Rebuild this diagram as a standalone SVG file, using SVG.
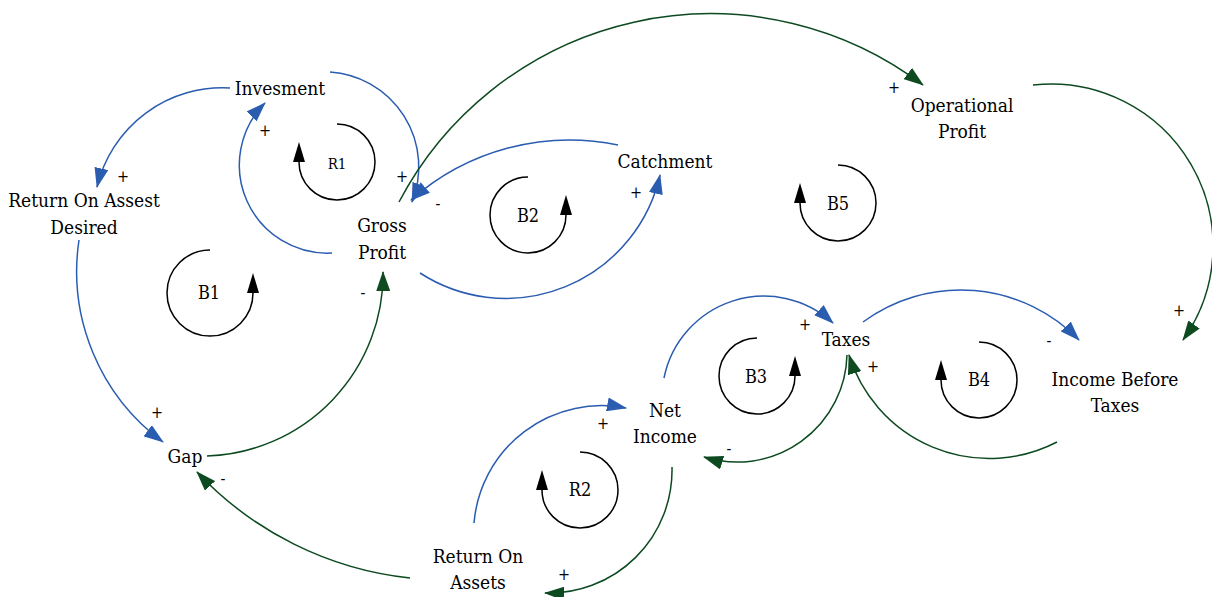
<svg xmlns="http://www.w3.org/2000/svg" width="1212" height="597" viewBox="0 0 1212 597">
<style>
text{font-family:'DejaVu Serif Condensed','DejaVu Serif',serif;font-stretch:condensed;fill:#000;text-anchor:middle}
.node text{font-size:19px}
.loop text{font-size:18px}
.sign{font-size:16px}
.b{fill:none;stroke:#2a5cb0;stroke-width:1.5;marker-end:url(#ab)}
.g{fill:none;stroke:#0d4a20;stroke-width:1.5;marker-end:url(#ag)}
.lp{fill:none;stroke:#000;stroke-width:1.5;marker-end:url(#ak)}
</style>
<defs>
<marker id="ab" markerUnits="userSpaceOnUse" viewBox="0 0 20 14" markerWidth="20" markerHeight="14" refX="19" refY="7" orient="auto"><path d="M0,0 L20,7 L0,14 Z" fill="#2a5cb0"/></marker>
<marker id="ag" markerUnits="userSpaceOnUse" viewBox="0 0 20 14" markerWidth="20" markerHeight="14" refX="19" refY="7" orient="auto"><path d="M0,0 L20,7 L0,14 Z" fill="#0d4a20"/></marker>
<marker id="ak" markerUnits="userSpaceOnUse" viewBox="0 0 20 12" markerWidth="20" markerHeight="12" refX="0" refY="6" orient="auto"><path d="M0,0 L20,6 L0,12 Z" fill="#000"/></marker>
</defs>
<rect width="1212" height="597" fill="#fff"/>
<g id="connectors">
<path class="b" d="M230,88 A129,129 0 0 0 97,187"/>
<path class="b" d="M330,72 A95,95 0 0 1 412,202"/>
<path class="b" d="M332,253 A88,88 0 0 1 265,103"/>
<path class="g" d="M399,202 A352,352 0 0 1 923,85"/>
<path class="b" d="M618,145 A239,239 0 0 0 411,200"/>
<path class="b" d="M420,273 A158,158 0 0 0 660,175"/>
<path class="g" d="M1033,85 A162,162 0 0 1 1183,340"/>
<path class="b" d="M79,240 A212,212 0 0 0 163,442"/>
<path class="g" d="M207,456 A182,182 0 0 0 383,272"/>
<path class="g" d="M410,578 A342,342 0 0 1 197,472"/>
<path class="b" d="M474,523 A128,128 0 0 1 626,408"/>
<path class="g" d="M672,467 A123,123 0 0 1 545,593"/>
<path class="b" d="M664,378 A102,102 0 0 1 833,323"/>
<path class="g" d="M847,355 A110,110 0 0 1 704,457"/>
<path class="b" d="M863,322 A165,165 0 0 1 1079,340"/>
<path class="g" d="M1057,442 A147,147 0 0 1 849,355"/>
</g>
<g id="signs">
<text class="sign" x="123" y="182">+</text>
<text class="sign" x="265" y="136">+</text>
<text class="sign" x="402" y="182">+</text>
<text class="sign" x="438" y="209">-</text>
<text class="sign" x="363" y="298">-</text>
<text class="sign" x="636" y="198">+</text>
<text class="sign" x="894" y="93">+</text>
<text class="sign" x="1179" y="316">+</text>
<text class="sign" x="1049" y="346">-</text>
<text class="sign" x="873" y="372">+</text>
<text class="sign" x="805" y="330">+</text>
<text class="sign" x="729" y="454">-</text>
<text class="sign" x="603" y="429">+</text>
<text class="sign" x="564" y="580">+</text>
<text class="sign" x="157" y="418">+</text>
<text class="sign" x="223" y="484">-</text>
</g>
<g id="invesment" class="node"><text x="280" y="95">Invesment</text></g>
<g id="roa-desired" class="node"><text x="84" y="207">Return On Assest</text><text x="84" y="234">Desired</text></g>
<g id="gross-profit" class="node"><text x="382" y="232">Gross</text><text x="382" y="259">Profit</text></g>
<g id="catchment" class="node"><text x="665" y="168">Catchment</text></g>
<g id="operational-profit" class="node"><text x="962" y="112">Operational</text><text x="962" y="138">Profit</text></g>
<g id="gap" class="node"><text x="185" y="463">Gap</text></g>
<g id="return-on-assets" class="node"><text x="478" y="563">Return On</text><text x="478" y="589">Assets</text></g>
<g id="net-income" class="node"><text x="665" y="417">Net</text><text x="665" y="443">Income</text></g>
<g id="taxes" class="node"><text x="846" y="346">Taxes</text></g>
<g id="income-before-taxes" class="node"><text x="1115" y="386">Income Before</text><text x="1115" y="412">Taxes</text></g>
<g id="loop-r1" class="loop"><path class="lp" d="M337,124 A38,38 0 1 1 299,162"/><text x="337" y="169" style="font-size:15px">R1</text></g>
<g id="loop-b1" class="loop"><path class="lp" d="M210,250 A43,43 0 1 0 253,293"/><text x="209" y="299">B1</text></g>
<g id="loop-b2" class="loop"><path class="lp" d="M528,177 A38,38 0 1 0 566,215"/><text x="528" y="222">B2</text></g>
<g id="loop-b5" class="loop"><path class="lp" d="M838,165 A38,38 0 1 1 800,203"/><text x="838" y="210">B5</text></g>
<g id="loop-b3" class="loop"><path class="lp" d="M757,338 A38,38 0 1 0 795,376"/><text x="756" y="383">B3</text></g>
<g id="loop-b4" class="loop"><path class="lp" d="M979,342 A38,38 0 1 1 941,380"/><text x="979" y="386">B4</text></g>
<g id="loop-r2" class="loop"><path class="lp" d="M580,452 A38,38 0 1 1 542,490"/><text x="580" y="496">R2</text></g>
</svg>
